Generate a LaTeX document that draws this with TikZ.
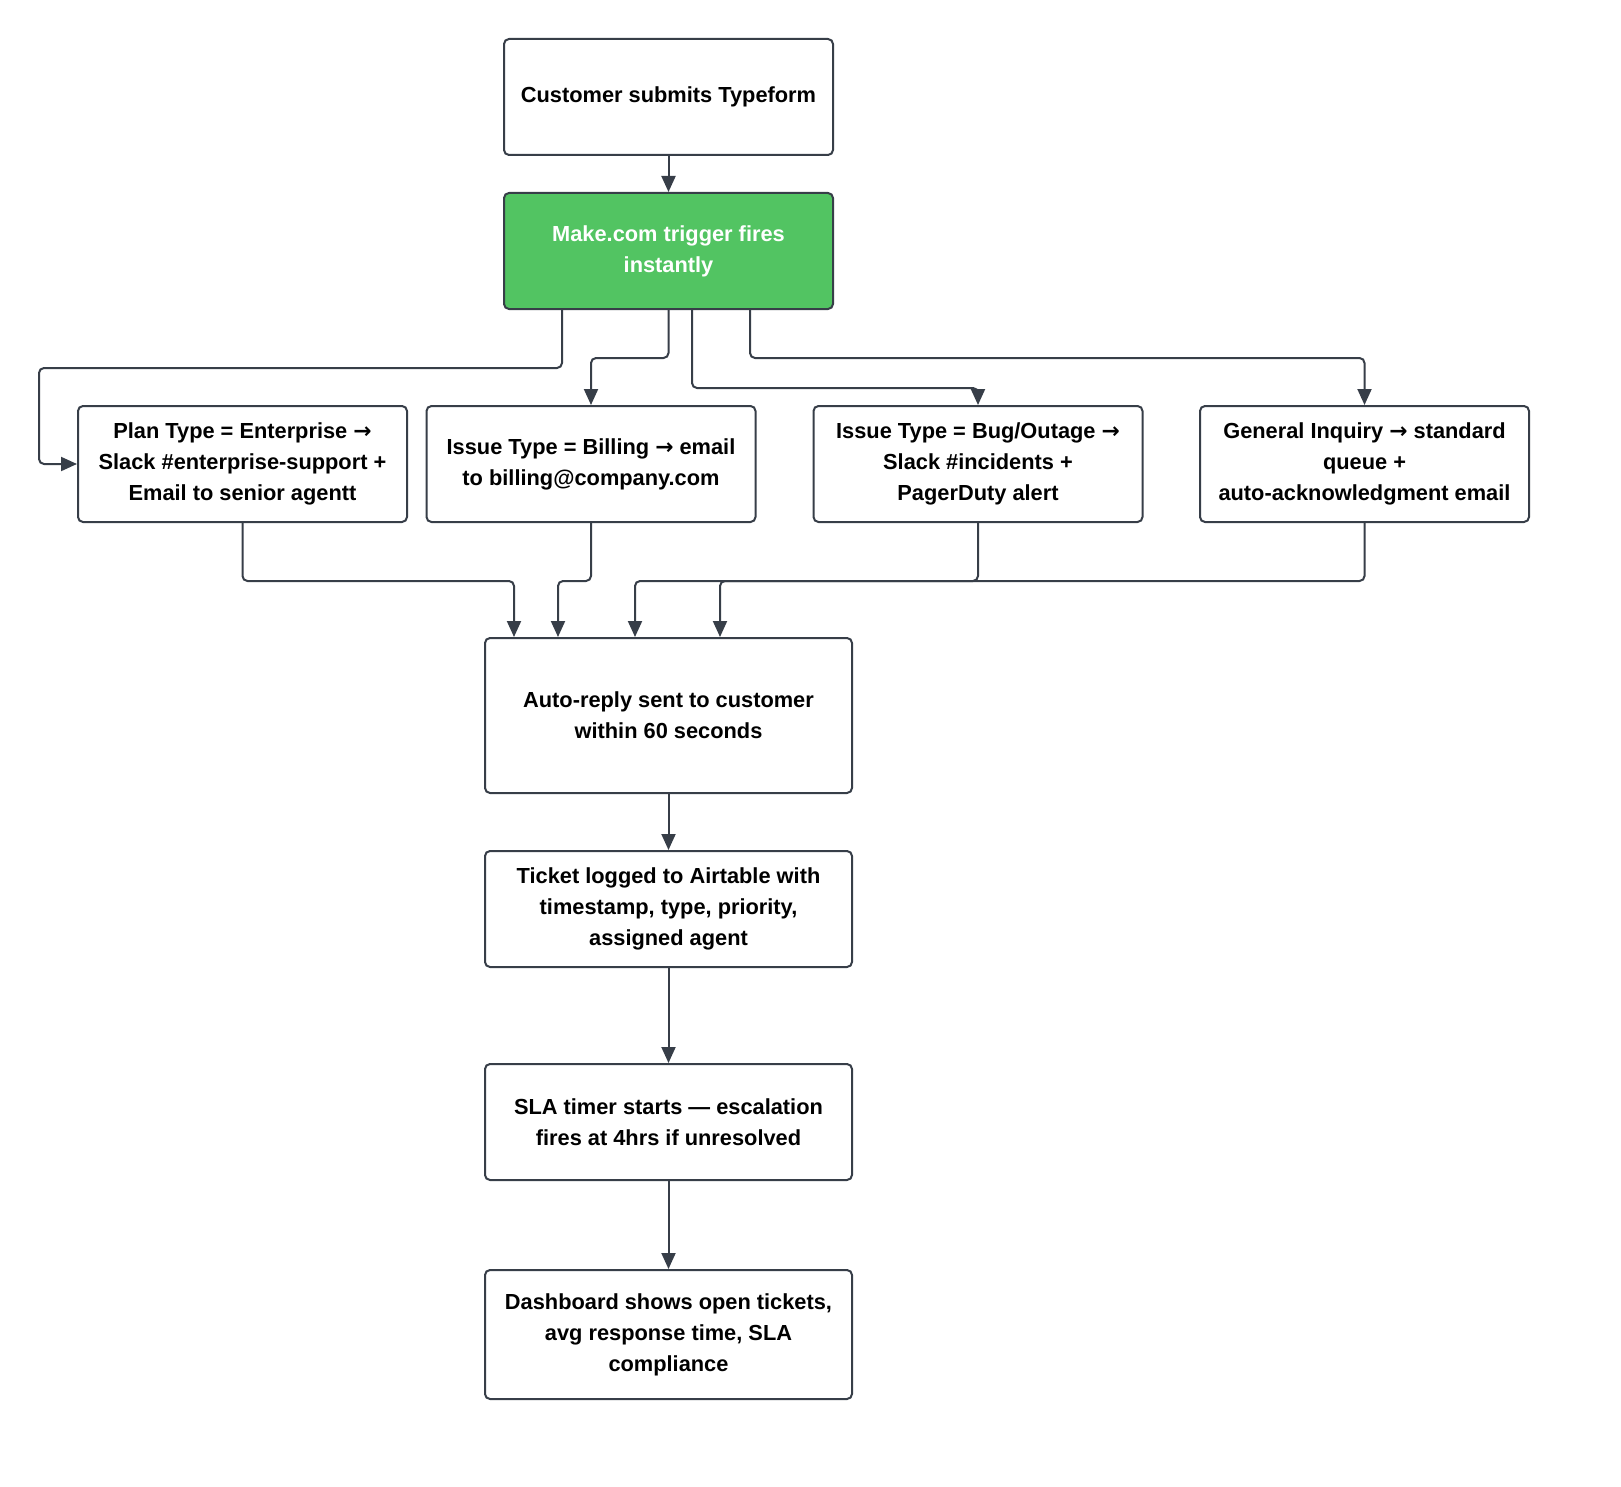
\documentclass[tikz,border=0pt]{standalone}
\usepackage{fontspec}
\setmainfont{Liberation Sans}
\newfontfamily\arrfont{DejaVu Sans}
\newcommand{\myra}{{\arrfont\bfseries →}}
\usetikzlibrary{arrows.meta,calc}
\definecolor{edgec}{RGB}{55,62,72}
\definecolor{greenc}{RGB}{82,196,98}
\begin{document}
\begin{tikzpicture}[x=0.5pt,y=-0.5pt,
  box/.style={draw=edgec,line width=1pt,rounded corners=2.5pt,fill=white,inner sep=0pt,
    align=center,font=\fontsize{10.9pt}{15.5pt}\selectfont\bfseries,text=black},
  small/.style={box,minimum width=164.5pt,minimum height=58pt},
  big/.style={box,minimum width=183.5pt,minimum height=58pt},
  arr/.style={draw=edgec,line width=1pt,rounded corners=2.5pt,-{Triangle[length=8pt,width=7pt]}}]
\useasboundingbox (0,0) rectangle (1621,1487);
\node[small] (top) at (668.5,97) {Customer submits Typeform};
\node[small,fill=greenc,text=white] (green) at (668.5,251) {Make.com trigger fires\\instantly};
\node[small] (A) at (242.5,464) {Plan Type = Enterprise \myra\\Slack \#enterprise-support +\\Email to senior agentt};
\node[small] (B) at (591,464) {Issue Type = Billing \myra{} email\\to billing@company.com};
\node[small] (C) at (978,464) {Issue Type = Bug/Outage \myra\\Slack \#incidents +\\PagerDuty alert};
\node[small] (D) at (1364.5,464) {General Inquiry \myra{} standard\\queue +\\auto-acknowledgment email};
\node[big,minimum height=77.5pt] (auto) at (668.5,715.5) {Auto-reply sent to customer\\within 60 seconds};
\node[big] (ticket) at (668.5,909) {Ticket logged to Airtable with\\timestamp, type, priority,\\assigned agent};
\node[big] (sla) at (668.5,1122) {SLA timer starts — escalation\\fires at 4hrs if unresolved};
\node[big,minimum height=64.5pt] (dash) at (668.5,1334.5) {Dashboard shows open tickets,\\avg response time, SLA\\compliance};
\draw[arr] (top.south) -- (green.north);
\draw[arr] ($(green.south)+(-106.5,0)$) -- ++(0,58) -- ++(-523,0) |- (A.west);
\draw[arr] (green.south) -- ++(0,48) -| (B.north);
\draw[arr] ($(green.south)+(23.5,0)$) -- ++(0,78) -| (C.north);
\draw[arr] ($(green.south)+(81.5,0)$) -- ++(0,48) -| (D.north);
\draw[arr] (A.south) -- ++(0,58) -| ($(auto.north)+(-154.5,0)$);
\draw[arr] (B.south) -- ++(0,58) -| ($(auto.north)+(-110.5,0)$);
\draw[arr] (C.south) -- ++(0,58) -| ($(auto.north)+(-33.5,0)$);
\draw[arr] (D.south) -- ++(0,58) -| ($(auto.north)+(51.5,0)$);
\draw[arr] (auto.south) -- (ticket.north);
\draw[arr] (ticket.south) -- (sla.north);
\draw[arr] (sla.south) -- (dash.north);
\end{tikzpicture}
\end{document}
